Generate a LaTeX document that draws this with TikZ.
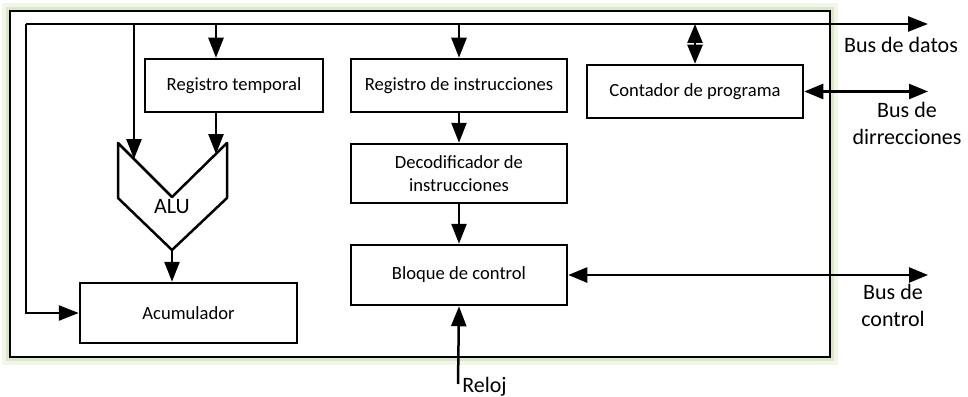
\documentclass[tikz,border=0pt]{standalone}
\usepackage{fontspec}
\setmainfont{Carlito}
\usetikzlibrary{arrows.meta}
\definecolor{glowgreen}{RGB}{215,228,189}

\begin{document}
\begin{tikzpicture}[x=1pt, y=-1pt, line width=2.5pt,
    blk/.style={draw, fill=white, font=\fontsize{18.6}{23}\selectfont, align=center, inner sep=0pt},
    lbl/.style={font=\fontsize{22}{27}\selectfont, align=center, inner sep=0pt},
    arr/.style={-{Triangle[length=20pt, width=15pt]}},
    arrs/.style={{Triangle[length=19pt, width=15pt]}-{Triangle[length=19pt, width=15pt]}}]
    \useasboundingbox (0,0) rectangle (968,396);
    % frame
    \draw[glowgreen, line width=8pt, opacity=0.35] (6,7) rectangle (834,361);
    \draw[glowgreen, line width=4pt, opacity=0.8] (8,9) rectangle (832,359);
    \draw[fill=white] (10,11) rectangle (830,357);
    % blocks
    \node[blk, minimum width=178pt, minimum height=53pt] (tmp) at (234,85.5) {Registro temporal};
    \node[blk, minimum width=216pt, minimum height=53pt] (ins) at (459,85.5) {Registro de instrucciones};
    \node[blk, minimum width=216pt, minimum height=59pt] (dec) at (459,173.5) {Decodificador de\\instrucciones};
    \node[blk, minimum width=216pt, minimum height=60pt] (ctl) at (459,275) {Bloque de control};
    \node[blk, minimum width=216pt, minimum height=53pt] (pc) at (695,91.5) {Contador de programa};
    \node[blk, minimum width=217pt, minimum height=60pt] (acc) at (188.5,313) {Acumulador};
    % ALU
    \coordinate (aluA) at (134,159);
    \coordinate (aluB) at (216,154);
    \coordinate (aluO) at (172,250);
    \draw[line join=round] (118,143) -- (172,197) -- (227,143) -- (227,198) -- (aluO) -- (118,198) -- cycle;
    \node[lbl] (alu) at (172,207) {ALU};
    % data bus
    \coordinate (busL) at (26,24);
    \coordinate (busR) at (928,24);
    \draw[arr] (busL) -- (busR);
    \draw[arr] (busL) |- (acc.west);
    \draw[arr] (busL -| aluA) -- (aluA);
    \draw[arr] (busL -| aluB) -- (tmp.north -| aluB);
    \draw[arr] (tmp.south -| aluB) -- (aluB);
    \draw[arr] (aluO) -- (aluO |- acc.north);
    \draw[arr] (busL -| ins.north) -- (ins.north);
    \draw[arr] (ins) -- (dec);
    \draw[arr] (dec) -- (ctl);
    \draw[arrs] (busL -| pc.north) -- (pc.north);
    % address and control bus
    \draw[arrs] (pc.east) -- (pc.east -| busR);
    \draw[arrs] (ctl.east) -- (ctl.east -| busR);
    % clock
    \coordinate (clk) at (458,384);
    \draw[arr] (clk) -- (ctl.south);
    % labels
    \node[lbl] (datos) at (901,45) {Bus de datos};
    \node[lbl] (dir) at (907,123) {Bus de\\dirrecciones};
    \node[lbl] (bctl) at (893,305) {Bus de\\control};
    \node[lbl, anchor=base west] (reloj) at (461,392) {Reloj};
\end{tikzpicture}
\end{document}
